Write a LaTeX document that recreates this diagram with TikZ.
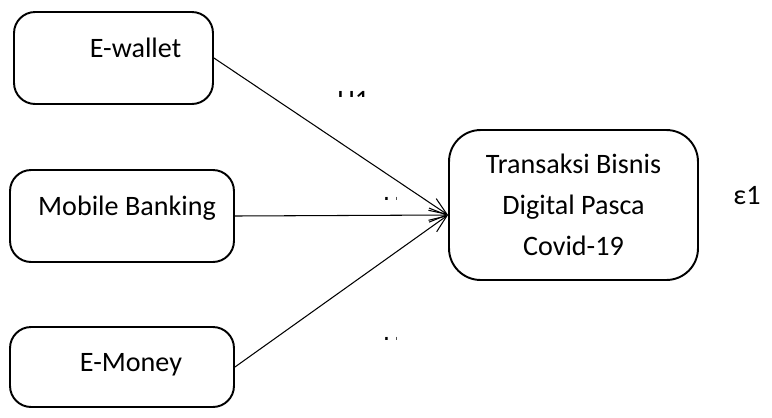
\documentclass[tikz,border=0pt]{standalone}
\usepackage{fontspec}
\setmainfont{Carlito}
\usetikzlibrary{arrows.meta,positioning}
\tikzset{
	box/.style={draw, line width=1.1pt, rounded corners=12pt, align=center, font=\fontsize{16}{23.5}\selectfont},
	inp/.style={box, text height=11pt, text depth=12pt},
	line/.style={draw, line width=0.6pt, -{Straight Barb[length=10pt,width=8pt]}},
	hyp/.style={anchor=north west, inner sep=0pt, font=\fontsize{16}{18}\selectfont}
}
\begin{document}
\begin{tikzpicture}[x=0.02cm, y=-0.02cm]
	\useasboundingbox (0,0) rectangle (772,417);
	% variabel bebas
	\node[inp, minimum width=3.98cm, minimum height=1.84cm] (ewallet) at (113.5,58) {\hspace*{0.88cm}E-wallet};
	\node[inp, minimum width=4.48cm, minimum height=1.84cm] (mobile) at (122,216) {\hspace*{0.2cm}Mobile Banking};
	\node[inp, text depth=6pt, minimum width=4.48cm, minimum height=1.6cm] (emoney) at (122,367) {\hspace*{0.36cm}E-Money};
	% variabel terikat
	\node[box, rounded corners=18pt, minimum width=4.98cm, minimum height=3cm] (trans) at (573.5,205) {
		Transaksi Bisnis\\ Digital Pasca\\ Covid-19
	};
	\node[font=\fontsize{16}{18}\selectfont] (eps) at (747,196) {ε1};
	\path[line] (ewallet.east) -- ([yshift=-2mm]trans.west);
	\path[line] (mobile.east) -- ([yshift=-2mm]trans.west);
	\path[line] (emoney.east) -- ([yshift=-2mm]trans.west);
	% label hipotesis (terpotong)
	\begin{scope}
		\clip (330,85) rectangle (375,96);
		\node[hyp] (h1) at (337,91) {H1};
	\end{scope}
	\begin{scope}
		\clip (375,190) rectangle (396,199.5);
		\node[hyp] (h2) at (383,197) {H2};
	\end{scope}
	\begin{scope}
		\clip (375,330) rectangle (396,339.5);
		\node[hyp] (h3) at (383,337) {H3};
	\end{scope}
\end{tikzpicture}
\end{document}
